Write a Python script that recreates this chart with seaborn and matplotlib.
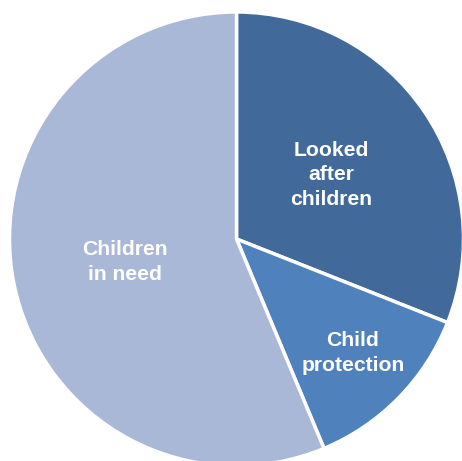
import matplotlib
matplotlib.use("Agg")
import matplotlib.pyplot as plt
import seaborn as sns

categories = ["Looked after children", "Child protection", "Children in need"]
label_text = ["Looked\nafter\nchildren", "Child\nprotection", "Children\nin need"]
values = [31.0, 12.7, 56.3]
colors = ["#416A9B", "#4F81BD", "#A9B8D6"]

sns.set_theme(style="white")
plt.rcParams['font.family'] = ['Liberation Sans', 'DejaVu Sans']

fig = plt.figure(figsize=(4.62, 4.61), dpi=100)
ax = fig.add_axes([9.5 / 462, -5 / 461, 454 / 462, 454 / 461])
wedges, _ = ax.pie(values, colors=colors, startangle=90, counterclock=False,
                   radius=1.0, wedgeprops=dict(edgecolor="white", linewidth=2.5))
ax.set_xlim(-1, 1)
ax.set_ylim(-1, 1)
ax.set_aspect("auto")
ax.axis("off")

label_pos = [(0.416, 0.282), (0.513, -0.502), (-0.491, -0.101)]
for (x, y), t in zip(label_pos, label_text):
    ax.text(x, y, t, ha="center", va="center", color="white", fontsize=15.2,
            fontweight="bold", linespacing=1.35)

fig.savefig("out.png", dpi=100, facecolor="white")
